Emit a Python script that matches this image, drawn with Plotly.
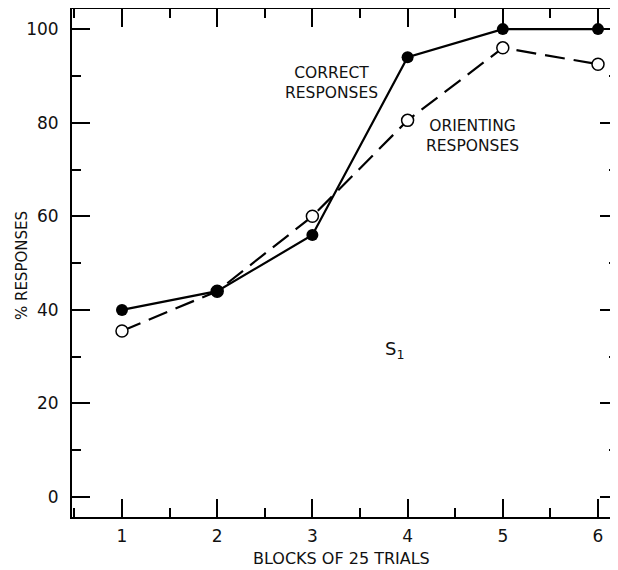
import plotly.graph_objects as go

blocks = [1, 2, 3, 4, 5, 6]
correct = [40, 44, 56, 94, 100, 100]
orienting = [35.5, 44, 60, 80.5, 96, 92.5]
x_ticks = [1, 2, 3, 4, 5, 6]
y_ticks = [0, 20, 40, 60, 80, 100]

FONT = "DejaVu Sans"

fig = go.Figure()
fig.add_trace(go.Scatter(
    x=blocks, y=orienting, mode="lines+markers",
    line=dict(color="black", width=2.2, dash="20px,9px"),
    marker=dict(symbol="circle", size=12, color="white",
                line=dict(color="black", width=1.5)),
    showlegend=False))
fig.add_trace(go.Scatter(
    x=blocks, y=correct, mode="lines+markers",
    line=dict(color="black", width=2.2),
    marker=dict(symbol="circle", size=12, color="black"),
    showlegend=False))

fig.add_annotation(x=3.2, y=88.5, text="CORRECT<br>RESPONSES", showarrow=False,
                   font=dict(family=FONT, size=15.5, color="#111"), align="center")
fig.add_annotation(x=4.68, y=77.2, text="ORIENTING<br>RESPONSES", showarrow=False,
                   font=dict(family=FONT, size=15.5, color="#111"), align="center")
fig.add_annotation(x=3.86, y=31.5, text="S<sub>1</sub>", showarrow=False,
                   font=dict(family=FONT, size=18, color="#111"))

# axis titles placed as paper-anchored text
fig.add_annotation(xref="paper", yref="paper", x=0, y=0.494, xshift=-50,
                   xanchor="center", yanchor="middle", textangle=-90,
                   text="% RESPONSES", showarrow=False,
                   font=dict(family=FONT, size=15, color="#111"))
fig.add_annotation(xref="paper", yref="paper", x=0.4927, y=0, yshift=-41,
                   xanchor="center", yanchor="middle",
                   text="BLOCKS OF 25 TRIALS", showarrow=False,
                   font=dict(family=FONT, size=16, color="#111"))

axis_common = dict(showline=True, linecolor="black", linewidth=2, mirror="ticks",
                   ticks="inside", tickcolor="black", tickwidth=1.5, ticklen=18,
                   showgrid=False, zeroline=False, automargin=False,
                   tickfont=dict(family=FONT, size=17, color="#111"))

fig.update_xaxes(range=[0.475, 6.21], tickvals=x_ticks,
                 minor=dict(dtick=0.5, tick0=0.5, ticks="inside", ticklen=9,
                            tickcolor="black", tickwidth=1.5, showgrid=False),
                 ticklabelstandoff=3,
                 **axis_common)
fig.update_yaxes(range=[-4.26, 104.3], tickvals=y_ticks,
                 minor=dict(dtick=10, tick0=10, ticks="inside", ticklen=9,
                            tickcolor="black", tickwidth=1.5, showgrid=False),
                 ticklabelstandoff=8,
                 **axis_common)

# page has an 8px body margin, so the figure is sized to fit inside the window
fig.update_layout(width=610, height=562,
                  margin=dict(l=64, r=0, t=1, b=53),
                  paper_bgcolor="white", plot_bgcolor="white")

fig.write_html("out.html")
